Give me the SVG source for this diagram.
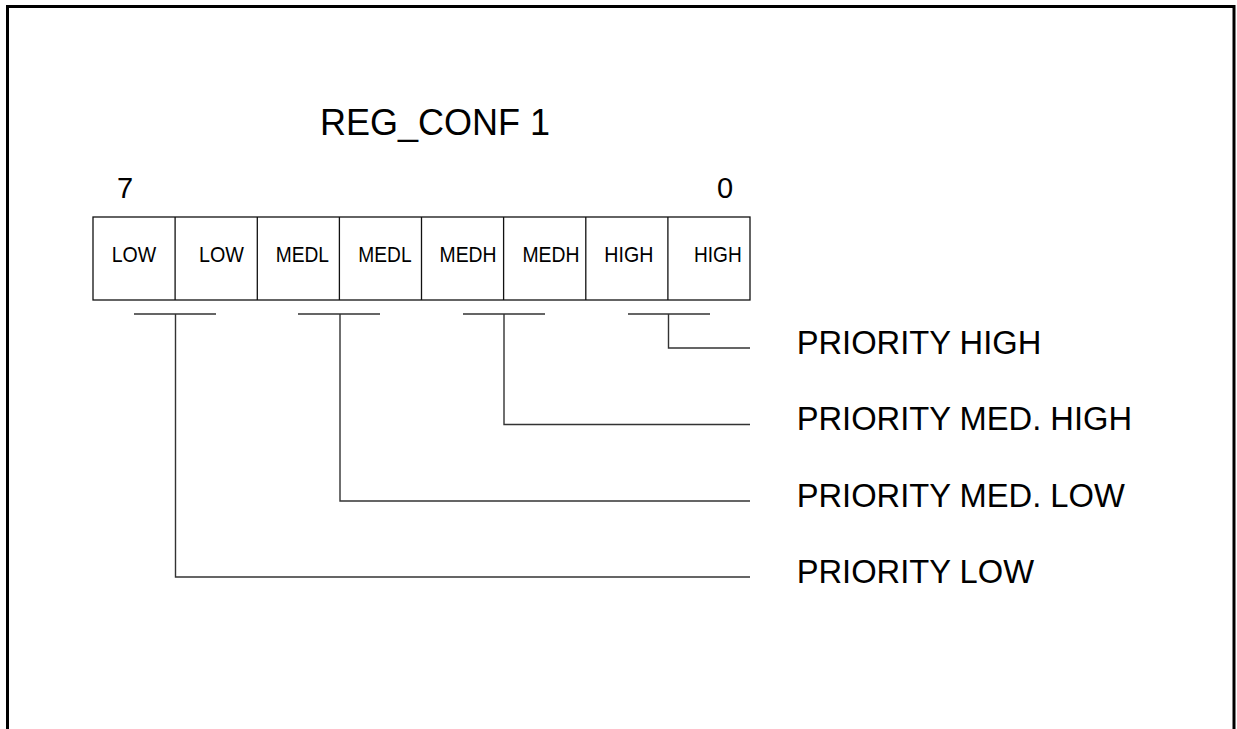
<svg xmlns="http://www.w3.org/2000/svg" width="1237" height="729" viewBox="0 0 1237 729">
<style>
.t{font-family:"Liberation Sans",Arial,sans-serif;fill:#000}
.cell{font-size:22.5px}
.big{font-size:32.7px}
.conn{fill:none;stroke:#333;stroke-width:1.4}
.box{fill:#fff;stroke:#111;stroke-width:1.3}
</style>
<rect width="1237" height="729" fill="#fff"/>
<path d="M7.5,729 V6.5 H1234 V729" fill="none" stroke="#000" stroke-width="3"/>
<g id="title"><text class="t" x="320" y="135" font-size="36">REG_CONF 1</text></g>
<g id="bit7"><text class="t" x="117" y="198" font-size="29">7</text></g>
<g id="bit0"><text class="t" x="717" y="198" font-size="29">0</text></g>
<g id="register">
<rect class="box" x="93" y="217" width="657" height="83"/>
<path class="box" d="M175.1,217V300M257.3,217V300M339.4,217V300M421.5,217V300M503.6,217V300M585.8,217V300M667.9,217V300"/>
<text class="t cell" x="111.7" y="262" textLength="44.5" lengthAdjust="spacingAndGlyphs">LOW</text>
<text class="t cell" x="199" y="262" textLength="45" lengthAdjust="spacingAndGlyphs">LOW</text>
<text class="t cell" x="275.7" y="262" textLength="53.3" lengthAdjust="spacingAndGlyphs">MEDL</text>
<text class="t cell" x="358.3" y="262" textLength="53.3" lengthAdjust="spacingAndGlyphs">MEDL</text>
<text class="t cell" x="439.5" y="262" textLength="57" lengthAdjust="spacingAndGlyphs">MEDH</text>
<text class="t cell" x="522.4" y="262" textLength="57" lengthAdjust="spacingAndGlyphs">MEDH</text>
<text class="t cell" x="604.3" y="262" textLength="49" lengthAdjust="spacingAndGlyphs">HIGH</text>
<text class="t cell" x="694" y="262" textLength="47.7" lengthAdjust="spacingAndGlyphs">HIGH</text>
</g>
<g id="connectors">
<path class="conn" d="M134,314H216M298,314H380M463,314H545M628,314H710"/>
<path class="conn" d="M668.5,314V348H750"/>
<path class="conn" d="M504,314V424.5H750"/>
<path class="conn" d="M340,314V501H750"/>
<path class="conn" d="M175.5,314V577H750"/>
</g>
<g id="label-high"><text class="t big" x="796.7" y="354">PRIORITY HIGH</text></g>
<g id="label-medhigh"><text class="t big" x="796.7" y="430">PRIORITY MED. HIGH</text></g>
<g id="label-medlow"><text class="t big" x="796.7" y="506.5">PRIORITY MED. LOW</text></g>
<g id="label-low"><text class="t big" x="796.7" y="583">PRIORITY LOW</text></g>
</svg>
